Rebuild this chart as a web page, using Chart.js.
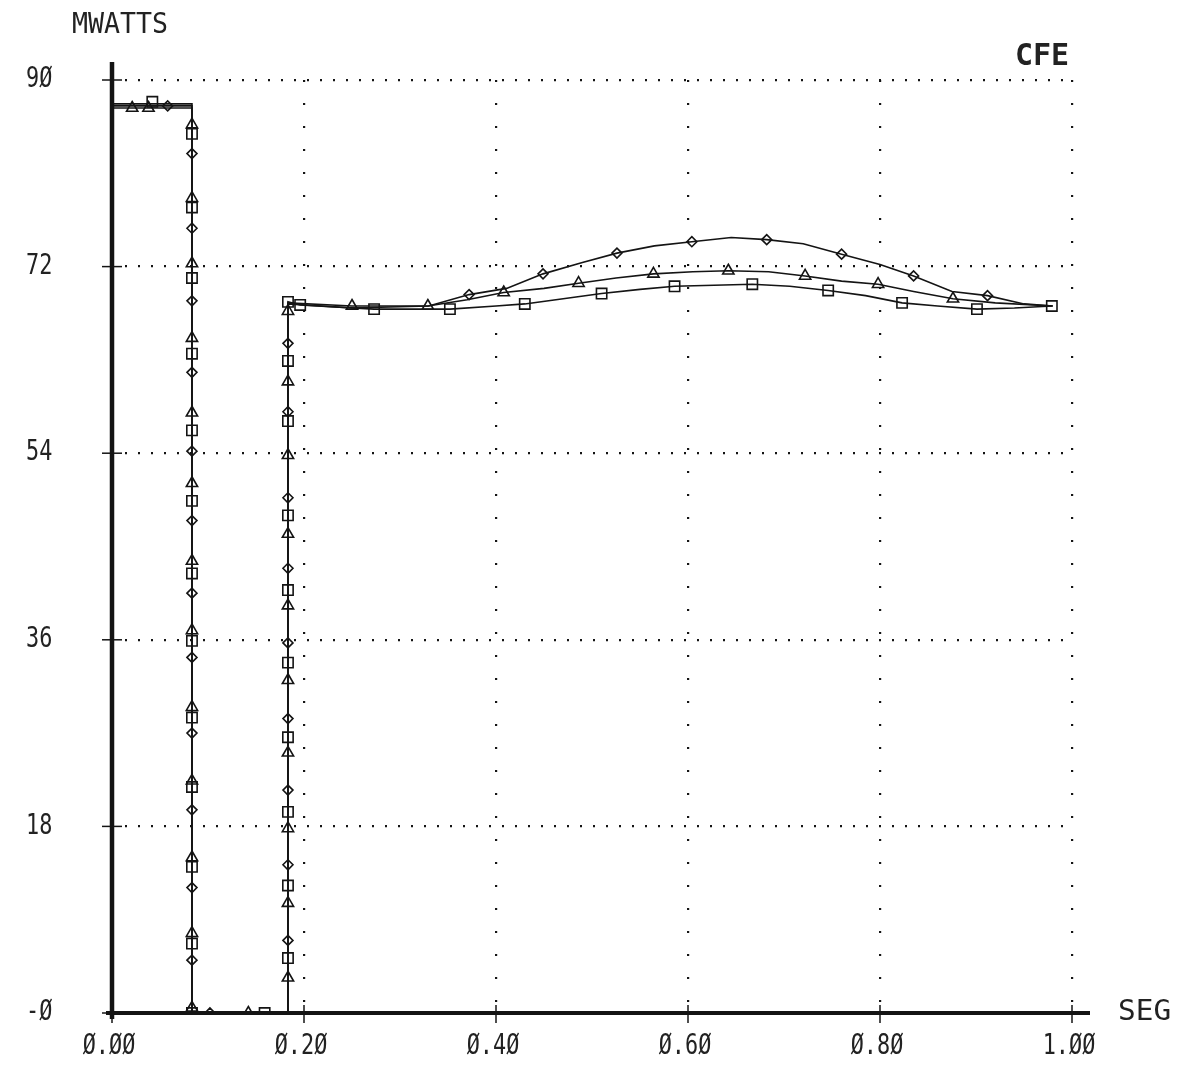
<!DOCTYPE html>
<html>
<head>
<meta charset="utf-8">
<script src="https://cdn.jsdelivr.net/npm/chart.js@4.4.0/dist/chart.umd.min.js"></script>
<style>
  html, body { margin: 0; padding: 0; background: #fff; }
  #wrap { width: 1182px; height: 1078px; position: relative; }
</style>
</head>
<body>
<div id="wrap"><canvas id="c"></canvas></div>
<script>
// Axis ticks and labels (time in seconds, power in MW)
const xTicks = [0, 0.2, 0.4, 0.6, 0.8, 1.0];
const xTickLabels = ['Ø.ØØ', 'Ø.2Ø', 'Ø.4Ø', 'Ø.6Ø', 'Ø.8Ø', '1.ØØ'];
const yTicks = [0, 18, 36, 54, 72, 90];
const yTickLabels = ['-Ø', '18', '36', '54', '72', '9Ø'];
const yTitle = 'MWATTS';
const xTitle = 'SEG';
const tag = 'CFE';

// Curve A (diamond markers)
const diamondX = [0, 0.0833, 0.0833, 0.1833, 0.1833, 0.25, 0.33, 0.372, 0.411, 0.449, 0.49, 0.526, 0.565, 0.604, 0.645, 0.682, 0.72, 0.76, 0.80, 0.835, 0.875, 0.912, 0.95, 0.98];
const diamondY = [87.5, 87.5, 0, 0, 68.4, 68.0, 68.2, 69.3, 69.9, 71.3, 72.4, 73.3, 74.0, 74.4, 74.8, 74.6, 74.2, 73.2, 72.2, 71.1, 69.6, 69.2, 68.4, 68.2];
// Curve B (triangle markers)
const triangleX = [0, 0.0833, 0.0833, 0.1833, 0.1833, 0.25, 0.329, 0.37, 0.408, 0.45, 0.486, 0.525, 0.564, 0.605, 0.642, 0.684, 0.722, 0.76, 0.798, 0.835, 0.876, 0.92, 0.98];
const triangleY = [87.3, 87.3, 0, 0, 68.5, 68.2, 68.2, 68.8, 69.5, 69.9, 70.4, 70.9, 71.3, 71.5, 71.6, 71.5, 71.1, 70.6, 70.3, 69.6, 68.9, 68.5, 68.2];
// Curve C (square markers)
const squareX = [0, 0.0833, 0.0833, 0.1833, 0.1833, 0.196, 0.273, 0.352, 0.40, 0.43, 0.47, 0.51, 0.55, 0.586, 0.627, 0.667, 0.706, 0.746, 0.785, 0.823, 0.86, 0.901, 0.94, 0.979];
const squareY = [87.7, 87.7, 0, 0, 68.6, 68.3, 67.9, 67.9, 68.2, 68.4, 68.9, 69.4, 69.8, 70.1, 70.2, 70.3, 70.1, 69.7, 69.2, 68.5, 68.2, 67.9, 68.0, 68.2];

// Plotted symbols along each curve
const diamondMarkX = [0.058,
  0.0833, 0.0833, 0.0833, 0.0833, 0.0833, 0.0833, 0.0833, 0.0833, 0.0833, 0.0833, 0.0833, 0.0833,
  0.102,
  0.1833, 0.1833, 0.1833, 0.1833, 0.1833, 0.1833, 0.1833, 0.1833, 0.1833,
  0.372, 0.449, 0.526, 0.604, 0.682, 0.760, 0.835, 0.912];
const diamondMarkY = [87.5,
  82.9, 75.7, 68.7, 61.8, 54.2, 47.5, 40.5, 34.3, 27.0, 19.6, 12.1, 5.1,
  0,
  64.6, 58.0, 49.7, 42.9, 35.7, 28.4, 21.5, 14.3, 7.0,
  69.3, 71.3, 73.3, 74.4, 74.6, 73.2, 71.1, 69.2];

const triangleMarkX = [0.021, 0.038,
  0.0833, 0.0833, 0.0833, 0.0833, 0.0833, 0.0833, 0.0833, 0.0833, 0.0833, 0.0833, 0.0833, 0.0833, 0.0833,
  0.142,
  0.1833, 0.1833, 0.1833, 0.1833, 0.1833, 0.1833, 0.1833, 0.1833, 0.1833, 0.1833,
  0.25, 0.329, 0.408, 0.486, 0.564, 0.642, 0.722, 0.798, 0.876];
const triangleMarkY = [87.3, 87.3,
  85.7, 78.6, 72.3, 65.1, 57.9, 51.1, 43.6, 36.9, 29.5, 22.4, 15.0, 7.7, 0.5,
  0,
  67.7, 60.9, 53.8, 46.2, 39.3, 32.1, 25.1, 17.8, 10.6, 3.4,
  68.2, 68.2, 69.5, 70.4, 71.3, 71.6, 71.1, 70.3, 68.9];

const squareMarkX = [0.042,
  0.0833, 0.0833, 0.0833, 0.0833, 0.0833, 0.0833, 0.0833, 0.0833, 0.0833, 0.0833, 0.0833, 0.0833, 0.0833,
  0.159,
  0.1833, 0.1833, 0.1833, 0.1833, 0.1833, 0.1833, 0.1833, 0.1833, 0.1833, 0.1833,
  0.196, 0.273, 0.352, 0.43, 0.51, 0.586, 0.667, 0.746, 0.823, 0.901, 0.979];
const squareMarkY = [87.9,
  84.8, 77.7, 70.9, 63.6, 56.2, 49.4, 42.4, 35.9, 28.5, 21.8, 14.1, 6.7, 0,
  0,
  68.6, 62.9, 57.1, 48.0, 40.8, 33.8, 26.6, 19.4, 12.3, 5.3,
  68.3, 67.9, 67.9, 68.4, 69.4, 70.1, 70.3, 69.7, 68.5, 67.9, 68.2];

const pts = (xs, ys) => xs.map((v, i) => ({ x: v, y: ys[i] }));
const INK = '#141414';

function traceSet(xs, ys) {
  return { data: pts(xs, ys), showLine: true, borderColor: INK, borderWidth: 1.6,
           pointRadius: 0, pointHoverRadius: 0, tension: 0, fill: false };
}
function markSet(xs, ys, style, r) {
  return { data: pts(xs, ys), showLine: false, pointStyle: style, pointRadius: r,
           pointHoverRadius: r, borderColor: INK, borderWidth: 1.6,
           backgroundColor: 'rgba(0,0,0,0)' };
}

function plotText(ctx, str, px, py, size, sx, align, weight) {
  ctx.save();
  ctx.translate(px, py);
  ctx.scale(sx, 1);
  ctx.font = (weight || 'normal') + ' ' + size + 'px "DejaVu Sans Mono"';
  ctx.textAlign = align;
  ctx.textBaseline = 'middle';
  ctx.fillStyle = '#222';
  ctx.fillText(str, 0, 0);
  ctx.restore();
}

// Heavy pen axes, tick crosses and lettering
const plotterFrame = {
  id: 'plotterFrame',
  afterDatasetsDraw(chart) {
    const { ctx, scales: { x, y } } = chart;
    const x0 = x.getPixelForValue(0);
    const y0 = y.getPixelForValue(0);
    const yTop = y.getPixelForValue(90);
    const xEnd = x.getPixelForValue(1);
    ctx.save();
    ctx.strokeStyle = INK;
    ctx.lineWidth = 4.5;
    ctx.beginPath(); ctx.moveTo(x0, yTop - 18); ctx.lineTo(x0, y0 + 6); ctx.stroke();
    ctx.lineWidth = 4;
    ctx.beginPath(); ctx.moveTo(x0 - 6, y0); ctx.lineTo(xEnd + 18, y0); ctx.stroke();
    ctx.lineWidth = 1.5;
    yTicks.forEach(v => {
      const py = y.getPixelForValue(v);
      ctx.beginPath(); ctx.moveTo(x0 - 10, py); ctx.lineTo(x0 + 10, py); ctx.stroke();
    });
    xTicks.forEach(v => {
      const px = x.getPixelForValue(v);
      ctx.beginPath(); ctx.moveTo(px, y0 - 8); ctx.lineTo(px, y0 + 10); ctx.stroke();
    });
    yTicks.forEach((v, i) => {
      plotText(ctx, yTickLabels[i], 26, y.getPixelForValue(v), 28, 0.78, 'left');
    });
    xTicks.forEach((v, i) => {
      plotText(ctx, xTickLabels[i], x.getPixelForValue(v) - 3, y0 + 34, 28, 0.78, 'center');
    });
    plotText(ctx, yTitle, 72, 26, 28, 0.95, 'left');
    plotText(ctx, tag, 1042, 57, 30, 1.0, 'center', 'bold');
    plotText(ctx, xTitle, 1118, y0, 28, 1.05, 'left');
    ctx.restore();
  }
};

new Chart(document.getElementById('c'), {
  type: 'scatter',
  data: {
    datasets: [
      traceSet(diamondX, diamondY),
      traceSet(triangleX, triangleY),
      traceSet(squareX, squareY),
      markSet(diamondMarkX, diamondMarkY, 'rectRot', 5),
      markSet(triangleMarkX, triangleMarkY, 'triangle', 6.5),
      markSet(squareMarkX, squareMarkY, 'rect', 7.3)
    ]
  },
  options: {
    responsive: true,
    maintainAspectRatio: false,
    animation: false,
    layout: { padding: { left: 112, right: 110, top: 80, bottom: 65 } },
    plugins: { legend: { display: false }, tooltip: { enabled: false } },
    scales: {
      x: {
        type: 'linear', min: 0, max: 1,
        afterBuildTicks: s => { s.ticks = xTicks.map(v => ({ value: v })); },
        ticks: { display: false },
        grid: { color: INK, lineWidth: 2.2, drawTicks: false },
        border: { display: false, dash: [2, 21] }
      },
      y: {
        type: 'linear', min: 0, max: 90,
        afterBuildTicks: s => { s.ticks = yTicks.map(v => ({ value: v })); },
        ticks: { display: false },
        grid: { color: INK, lineWidth: 2.2, drawTicks: false },
        border: { display: false, dash: [2, 11] }
      }
    }
  },
  plugins: [plotterFrame]
});
</script>
</body>
</html>
